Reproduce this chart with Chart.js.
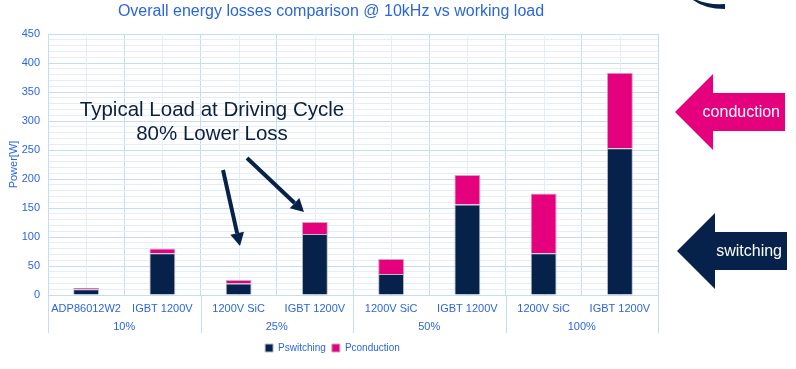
<!DOCTYPE html>
<html>
<head>
<meta charset="utf-8">
<script src="https://cdn.jsdelivr.net/npm/chart.js@4"></script>
<style>
  html, body { margin: 0; padding: 0; background: #fff; }
  #wrap { width: 796px; height: 369px; position: relative; }
</style>
</head>
<body>
<div id="wrap"><canvas id="chart"></canvas></div>
<script>
// ── Data ──────────────────────────────────────────────────────
const categories  = ['ADP86012W2', 'IGBT 1200V', '1200V SiC', 'IGBT 1200V', '1200V SiC', 'IGBT 1200V', '1200V SiC', 'IGBT 1200V'];
const loadGroups  = ['10%', '25%', '50%', '100%'];
const pSwitching  = [10, 72, 20, 105, 36, 156, 72, 253];
const pConduction = [2, 8, 6, 21, 26, 51, 103, 130];
const yMax        = 450;
const yMajorStep  = 50;
const yMinorStep  = 10;

const NAVY  = '#06214a';
const PINK  = '#e5007e';
const BLUE  = '#2a66de';
const GRID  = '#c6dbf6';
const GRID2 = '#e4eefb';
const FONT  = "'Liberation Sans', Arial, sans-serif";

// ── Extra drawing: title, grid lines, callouts ────────────────
function arrowLine(ctx, x1, y1, x2, y2) {
    const ang = Math.atan2(y2 - y1, x2 - x1);
    const hl = 13, hw = 7;
    const bx = x2 - hl * Math.cos(ang), by = y2 - hl * Math.sin(ang);
    ctx.strokeStyle = NAVY;
    ctx.lineWidth = 4;
    ctx.beginPath();
    ctx.moveTo(x1, y1);
    ctx.lineTo(bx, by);
    ctx.stroke();
    ctx.fillStyle = NAVY;
    ctx.beginPath();
    ctx.moveTo(x2, y2);
    ctx.lineTo(bx + hw * Math.sin(ang), by - hw * Math.cos(ang));
    ctx.lineTo(bx - hw * Math.sin(ang), by + hw * Math.cos(ang));
    ctx.closePath();
    ctx.fill();
}

function blockArrow(ctx, tipX, tipY, headX, halfHead, halfBody, rightX, color, label) {
    ctx.fillStyle = color;
    ctx.beginPath();
    ctx.moveTo(tipX, tipY);
    ctx.lineTo(headX, tipY - halfHead);
    ctx.lineTo(headX, tipY - halfBody);
    ctx.lineTo(rightX, tipY - halfBody);
    ctx.lineTo(rightX, tipY + halfBody);
    ctx.lineTo(headX, tipY + halfBody);
    ctx.lineTo(headX, tipY + halfHead);
    ctx.closePath();
    ctx.fill();
    ctx.fillStyle = '#ffffff';
    ctx.font = '16px ' + FONT;
    ctx.textAlign = 'right';
    ctx.textBaseline = 'middle';
    ctx.fillText(label, rightX - 5, tipY + 1);
}

const extras = {
    id: 'extras',
    beforeDatasetsDraw(chart) {
        const { ctx, chartArea, scales: { x } } = chart;
        ctx.save();
        ctx.strokeStyle = GRID2;
        ctx.lineWidth = 1;
        categories.forEach((c, i) => {
            const px = Math.round(x.getPixelForValue(i)) + 0.5;
            ctx.beginPath();
            ctx.moveTo(px, chartArea.top);
            ctx.lineTo(px, chartArea.bottom);
            ctx.stroke();
        });
        ctx.restore();
    },
    afterDraw(chart) {
        const { ctx, chartArea, scales: { x } } = chart;
        ctx.save();

        // group separators below the axis
        const half = (x.getPixelForValue(1) - x.getPixelForValue(0)) / 2;
        ctx.strokeStyle = GRID;
        ctx.lineWidth = 1;
        for (let i = 0; i <= categories.length; i += 2) {
            const px = Math.round(x.getPixelForValue(i) - half) + 0.5;
            ctx.beginPath();
            ctx.moveTo(px, chartArea.bottom);
            ctx.lineTo(px, chartArea.bottom + 38);
            ctx.stroke();
        }

        // title
        ctx.fillStyle = BLUE;
        ctx.font = '16px ' + FONT;
        ctx.textAlign = 'center';
        ctx.textBaseline = 'middle';
        ctx.fillText('Overall energy losses comparison @ 10kHz vs working load', 331, 12);

        // callout text
        ctx.fillStyle = '#0b1f40';
        ctx.font = '20.5px ' + FONT;
        ctx.fillText('Typical Load at Driving Cycle', 212, 110);
        ctx.fillText('80% Lower Loss', 212, 134);

        arrowLine(ctx, 223, 170, 240, 246);
        arrowLine(ctx, 247, 158, 304, 212);

        // side block arrows
        blockArrow(ctx, 675, 112, 713, 38, 19, 785, PINK, 'conduction');
        blockArrow(ctx, 677, 251, 715, 38, 19, 787, NAVY, 'switching');

        // corner logo fragment
        ctx.fillStyle = NAVY;
        ctx.beginPath();
        ctx.moveTo(697, 0);
        ctx.quadraticCurveTo(708, 5, 725, 4);
        ctx.lineTo(725, 9);
        ctx.quadraticCurveTo(705, 9, 693, 0);
        ctx.closePath();
        ctx.fill();

        ctx.restore();
    }
};

// ── Chart ─────────────────────────────────────────────────────
new Chart(document.getElementById('chart'), {
    type: 'bar',
    data: {
        labels: categories,
        datasets: [
            { label: 'Pswitching',  data: pSwitching,  backgroundColor: NAVY, borderColor: '#b9bccb', borderWidth: 1, barPercentage: 0.34, categoryPercentage: 1 },
            { label: 'Pconduction', data: pConduction, backgroundColor: PINK, borderColor: '#c9a8bd', borderWidth: 1, barPercentage: 0.34, categoryPercentage: 1 }
        ]
    },
    options: {
        responsive: true,
        maintainAspectRatio: false,
        animation: false,
        layout: { padding: { top: 34, right: 138, left: 7, bottom: 6 } },
        plugins: {
            title: { display: false },
            tooltip: { enabled: false },
            legend: {
                position: 'bottom',
                labels: {
                    color: BLUE,
                    font: { family: FONT, size: 10 },
                    boxWidth: 8,
                    boxHeight: 8,
                    padding: 6
                }
            }
        },
        scales: {
            x: {
                stacked: true,
                grid: { color: GRID, offset: true, drawTicks: false },
                border: { color: GRID },
                ticks: { color: BLUE, font: { family: FONT, size: 11 }, padding: 7, maxRotation: 0, autoSkip: false },
                afterFit: s => { s.height = 17; }
            },
            x2: {
                type: 'category',
                labels: loadGroups,
                position: 'bottom',
                offset: true,
                grid: { display: false },
                border: { display: false },
                ticks: { color: BLUE, font: { family: FONT, size: 11 }, padding: 0, maxRotation: 0 },
                afterFit: s => { s.height = 25; }
            },
            y: {
                stacked: true,
                min: 0,
                max: yMax,
                grid: {
                    color: c => (c.tick && c.tick.value % yMajorStep === 0) ? GRID : GRID2,
                    drawTicks: false
                },
                border: { color: GRID },
                ticks: {
                    stepSize: yMinorStep,
                    autoSkip: false,
                    color: BLUE,
                    font: { family: FONT, size: 11 },
                    padding: 8,
                    callback: v => (v % yMajorStep === 0 ? v : '')
                },
                title: { display: true, text: 'Power[W]', color: BLUE, font: { family: FONT, size: 11 }, padding: 0 },
                afterFit: s => { s.width = 41; }
            }
        }
    },
    plugins: [extras]
});
</script>
</body>
</html>
